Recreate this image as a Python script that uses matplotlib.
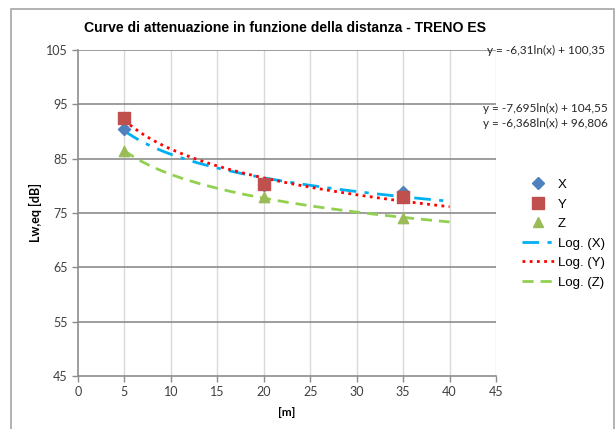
import matplotlib
matplotlib.use('Agg')
import matplotlib.pyplot as plt
from matplotlib.lines import Line2D
from matplotlib.patches import Rectangle
import numpy as np

# distances [m] and measured levels [dB]
dist = [5, 20, 35]
lev_x = [90.5, 80.2, 78.9]
lev_y = [92.4, 80.3, 78.0]
lev_z = [86.4, 78.0, 74.0]

eq_labels = ['y = -6,31ln(x) + 100,35',
             'y = -7,695ln(x) + 104,55',
             'y = -6,368ln(x) + 96,806']

x_ticks = [0, 5, 10, 15, 20, 25, 30, 35, 40, 45]
y_ticks = [45, 55, 65, 75, 85, 95, 105]

W, H = 616, 429
fig = plt.figure(figsize=(W / 100, H / 100), dpi=100)
ax = fig.add_axes([78 / W, 1 - 376 / H, (496 - 78) / W, (376 - 50) / H])

# outer chart border
fig.patches.append(Rectangle((11 / W, -0.05), (614 - 11) / W, 1.05 - 9 / H,
                             transform=fig.transFigure, fill=False,
                             edgecolor='#a6a6a6', linewidth=1.2))

tick_font = 'Lato'
text_font = 'Liberation Sans'

# trendlines (Excel-like log fit) from the data
xs = np.linspace(5, 40, 200)
fit_x = np.polyfit(np.log(dist), lev_x, 1)
fit_y = np.polyfit(np.log(dist), lev_y, 1)
fit_z = np.polyfit(np.log(dist), lev_z, 1)

ax.plot(xs, np.polyval(fit_x, np.log(xs)), color='#00b0f0', linewidth=2,
        dashes=(6, 3, 1.5, 3), zorder=3)
ax.plot(xs, np.polyval(fit_y, np.log(xs)), color='#ff0000', linewidth=2,
        dashes=(1, 1.6), zorder=3)
ax.plot(xs, np.polyval(fit_z, np.log(xs)), color='#92d050', linewidth=2,
        dashes=(4, 2.5), zorder=3)

ax.scatter(dist, lev_x, marker='D', s=38, color='#4f81bd', zorder=4)
ax.scatter(dist, lev_y, marker='s', s=70, color='#c0504d', zorder=5)
ax.scatter(dist, lev_z, marker='^', s=55, color='#9bbb59', zorder=4)

ax.set_xlim(0, 45)
ax.set_ylim(45, 105)
ax.set_xticks(x_ticks)
ax.set_yticks(y_ticks)

for y in y_ticks[1:]:
    ax.axhline(y, color='#8c8c8c', linewidth=1.2, zorder=1)
for x in x_ticks[1:]:
    ax.axvline(x, color='#d9d9d9', linewidth=1.0, zorder=0)

for side in ['top', 'right']:
    ax.spines[side].set_visible(False)
for side in ['left', 'bottom']:
    ax.spines[side].set_color('#8c8c8c')
    ax.spines[side].set_linewidth(1.2)

ax.tick_params(axis='both', direction='out', length=4, width=1, color='#8c8c8c',
               labelsize=9, labelcolor='#404040')
for lab in ax.get_xticklabels() + ax.get_yticklabels():
    lab.set_fontfamily(tick_font)

ax.set_xlabel('[m]', fontsize=8.5, fontweight='bold', fontfamily=tick_font, labelpad=6)
ax.set_ylabel('Lw,eq [dB]', fontsize=9, fontweight='bold', fontfamily=tick_font, labelpad=3)

fig.text(285 / W, 1 - 28 / H, 'Curve di attenuazione in funzione della distanza - TRENO ES',
         ha='center', va='center', fontsize=10.1, fontweight='bold', fontfamily=text_font)

# trendline equations
fig.text(605 / W, 1 - 50 / H, eq_labels[0], ha='right', va='center', fontsize=8.5,
         fontfamily=tick_font, color='#262626')
fig.text(608 / W, 1 - 108 / H, eq_labels[1], ha='right', va='center', fontsize=8.5,
         fontfamily=tick_font, color='#262626')
fig.text(608 / W, 1 - 123 / H, eq_labels[2], ha='right', va='center', fontsize=8.5,
         fontfamily=tick_font, color='#262626')

handles = [
    Line2D([], [], linestyle='none', marker='D', markersize=6, color='#4f81bd'),
    Line2D([], [], linestyle='none', marker='s', markersize=8, color='#c0504d'),
    Line2D([], [], linestyle='none', marker='^', markersize=7, color='#9bbb59'),
    Line2D([], [], color='#00b0f0', linewidth=2, dashes=(6, 3, 1.5, 3)),
    Line2D([], [], color='#ff0000', linewidth=2, dashes=(1, 1.6)),
    Line2D([], [], color='#92d050', linewidth=2, dashes=(4, 2.5)),
]
labels = ['X', 'Y', 'Z', 'Log. (X)', 'Log. (Y)', 'Log. (Z)']
fig.legend(handles, labels, loc='upper left', bbox_to_anchor=(510 / W, 1 - 167 / H),
           frameon=False, prop={'family': text_font, 'size': 9.5},
           handlelength=2.4, handletextpad=0.3, labelspacing=0.55)

plt.savefig('out.png', dpi=100)
